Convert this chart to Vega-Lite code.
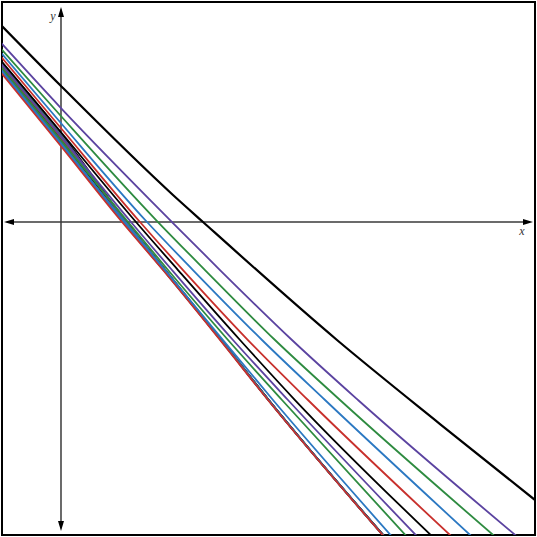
{
  "$schema": "https://vega.github.io/schema/vega-lite/v6.json",
  "width": 533,
  "height": 533,
  "padding": {"left": 2, "top": 2, "right": 2, "bottom": 2},
  "autosize": {"type": "none"},
  "background": "white",
  "config": {"view": {"stroke": "black", "strokeWidth": 2}},
  "datasets": {
    "top": [
      {"id": "T", "x": -1.068, "y": 3.39},
      {"id": "T", "x": -0.017, "y": 2.322},
      {"id": "T", "x": 1.898, "y": 0.458},
      {"id": "T", "x": 2.407, "y": 0},
      {"id": "T", "x": 4.678, "y": -2.0},
      {"id": "T", "x": 6.424, "y": -3.424},
      {"id": "T", "x": 8.119, "y": -4.78}
    ],
    "bundle": [
      {"id": "X0", "col": "black", "x": -1.068, "y": 2.780},
      {"id": "X0", "col": "black", "x": -0.017, "y": 1.525},
      {"id": "X0", "col": "black", "x": 1.110, "y": 0},
      {"id": "X0", "col": "black", "x": 1.771, "y": -0.814},
      {"id": "X0", "col": "black", "x": 2.720, "y": -2.0},
      {"id": "X0", "col": "black", "x": 3.522, "y": -3.017},
      {"id": "X0", "col": "black", "x": 5.536, "y": -5.39},
      {"id": "X1", "col": "purple", "x": -1.068, "y": 2.759},
      {"id": "X1", "col": "purple", "x": -0.017, "y": 1.501},
      {"id": "X1", "col": "purple", "x": 1.103, "y": 0},
      {"id": "X1", "col": "purple", "x": 1.767, "y": -0.814},
      {"id": "X1", "col": "purple", "x": 2.718, "y": -2.0},
      {"id": "X1", "col": "purple", "x": 3.521, "y": -3.017},
      {"id": "X1", "col": "purple", "x": 5.535, "y": -5.39},
      {"id": "X2", "col": "green", "x": -1.068, "y": 2.738},
      {"id": "X2", "col": "green", "x": -0.017, "y": 1.476},
      {"id": "X2", "col": "green", "x": 1.095, "y": 0},
      {"id": "X2", "col": "green", "x": 1.762, "y": -0.814},
      {"id": "X2", "col": "green", "x": 2.716, "y": -2.0},
      {"id": "X2", "col": "green", "x": 3.520, "y": -3.017},
      {"id": "X2", "col": "green", "x": 5.534, "y": -5.39},
      {"id": "X3", "col": "blue", "x": -1.068, "y": 2.717},
      {"id": "X3", "col": "blue", "x": -0.017, "y": 1.452},
      {"id": "X3", "col": "blue", "x": 1.088, "y": 0},
      {"id": "X3", "col": "blue", "x": 1.757, "y": -0.814},
      {"id": "X3", "col": "blue", "x": 2.715, "y": -2.0},
      {"id": "X3", "col": "blue", "x": 3.519, "y": -3.017},
      {"id": "X3", "col": "blue", "x": 5.533, "y": -5.39},
      {"id": "X4", "col": "red", "x": -1.068, "y": 2.697},
      {"id": "X4", "col": "red", "x": -0.017, "y": 1.427},
      {"id": "X4", "col": "red", "x": 1.080, "y": 0},
      {"id": "X4", "col": "red", "x": 1.752, "y": -0.814},
      {"id": "X4", "col": "red", "x": 2.713, "y": -2.0},
      {"id": "X4", "col": "red", "x": 3.518, "y": -3.017},
      {"id": "X4", "col": "red", "x": 5.532, "y": -5.39},
      {"id": "X5", "col": "black", "x": -1.068, "y": 2.676},
      {"id": "X5", "col": "black", "x": -0.017, "y": 1.403},
      {"id": "X5", "col": "black", "x": 1.073, "y": 0},
      {"id": "X5", "col": "black", "x": 1.748, "y": -0.814},
      {"id": "X5", "col": "black", "x": 2.711, "y": -2.0},
      {"id": "X5", "col": "black", "x": 3.517, "y": -3.017},
      {"id": "X5", "col": "black", "x": 5.531, "y": -5.39},
      {"id": "X6", "col": "purple", "x": -1.068, "y": 2.655},
      {"id": "X6", "col": "purple", "x": -0.017, "y": 1.378},
      {"id": "X6", "col": "purple", "x": 1.065, "y": 0},
      {"id": "X6", "col": "purple", "x": 1.743, "y": -0.814},
      {"id": "X6", "col": "purple", "x": 2.709, "y": -2.0},
      {"id": "X6", "col": "purple", "x": 3.516, "y": -3.017},
      {"id": "X6", "col": "purple", "x": 5.530, "y": -5.39},
      {"id": "X7", "col": "green", "x": -1.068, "y": 2.634},
      {"id": "X7", "col": "green", "x": -0.017, "y": 1.354},
      {"id": "X7", "col": "green", "x": 1.057, "y": 0},
      {"id": "X7", "col": "green", "x": 1.738, "y": -0.814},
      {"id": "X7", "col": "green", "x": 2.707, "y": -2.0},
      {"id": "X7", "col": "green", "x": 3.515, "y": -3.017},
      {"id": "X7", "col": "green", "x": 5.529, "y": -5.39},
      {"id": "X8", "col": "blue", "x": -1.068, "y": 2.614},
      {"id": "X8", "col": "blue", "x": -0.017, "y": 1.330},
      {"id": "X8", "col": "blue", "x": 1.050, "y": 0},
      {"id": "X8", "col": "blue", "x": 1.734, "y": -0.814},
      {"id": "X8", "col": "blue", "x": 2.705, "y": -2.0},
      {"id": "X8", "col": "blue", "x": 3.514, "y": -3.017},
      {"id": "X8", "col": "blue", "x": 5.528, "y": -5.39}
    ],
    "family": [
      {"id": "R1", "col": "red", "x": -1.068, "y": 2.593},
      {"id": "R1", "col": "red", "x": -0.017, "y": 1.305},
      {"id": "R1", "col": "red", "x": 1.034, "y": 0},
      {"id": "R1", "col": "red", "x": 1.729, "y": -0.814},
      {"id": "R1", "col": "red", "x": 2.695, "y": -2.0},
      {"id": "R1", "col": "red", "x": 3.508, "y": -3.017},
      {"id": "R1", "col": "red", "x": 5.525, "y": -5.39},
      {"id": "B1", "col": "blue", "x": -1.068, "y": 2.644},
      {"id": "B1", "col": "blue", "x": -0.017, "y": 1.356},
      {"id": "B1", "col": "blue", "x": 1.085, "y": 0},
      {"id": "B1", "col": "blue", "x": 1.763, "y": -0.814},
      {"id": "B1", "col": "blue", "x": 2.746, "y": -2.0},
      {"id": "B1", "col": "blue", "x": 3.593, "y": -3.017},
      {"id": "B1", "col": "blue", "x": 5.661, "y": -5.39},
      {"id": "G1", "col": "green", "x": -1.068, "y": 2.695},
      {"id": "G1", "col": "green", "x": -0.017, "y": 1.407},
      {"id": "G1", "col": "green", "x": 1.136, "y": 0},
      {"id": "G1", "col": "green", "x": 1.814, "y": -0.814},
      {"id": "G1", "col": "green", "x": 2.831, "y": -2.0},
      {"id": "G1", "col": "green", "x": 3.746, "y": -3.017},
      {"id": "G1", "col": "green", "x": 5.915, "y": -5.39},
      {"id": "P1", "col": "purple", "x": -1.068, "y": 2.746},
      {"id": "P1", "col": "purple", "x": -0.017, "y": 1.466},
      {"id": "P1", "col": "purple", "x": 1.186, "y": 0},
      {"id": "P1", "col": "purple", "x": 1.881, "y": -0.814},
      {"id": "P1", "col": "purple", "x": 2.915, "y": -2.0},
      {"id": "P1", "col": "purple", "x": 3.847, "y": -3.017},
      {"id": "P1", "col": "purple", "x": 6.095, "y": -5.39},
      {"id": "K1", "col": "black", "x": -1.068, "y": 2.797},
      {"id": "K1", "col": "black", "x": -0.017, "y": 1.542},
      {"id": "K1", "col": "black", "x": 1.271, "y": 0},
      {"id": "K1", "col": "black", "x": 1.983, "y": -0.814},
      {"id": "K1", "col": "black", "x": 3.034, "y": -2.0},
      {"id": "K1", "col": "black", "x": 3.966, "y": -3.017},
      {"id": "K1", "col": "black", "x": 6.356, "y": -5.39},
      {"id": "R2", "col": "red", "x": -1.068, "y": 2.864},
      {"id": "R2", "col": "red", "x": -0.017, "y": 1.610},
      {"id": "R2", "col": "red", "x": 1.339, "y": 0},
      {"id": "R2", "col": "red", "x": 2.068, "y": -0.814},
      {"id": "R2", "col": "red", "x": 3.169, "y": -2.0},
      {"id": "R2", "col": "red", "x": 4.186, "y": -3.017},
      {"id": "R2", "col": "red", "x": 6.685, "y": -5.39},
      {"id": "B2", "col": "blue", "x": -1.068, "y": 2.931},
      {"id": "B2", "col": "blue", "x": -0.017, "y": 1.695},
      {"id": "B2", "col": "blue", "x": 1.458, "y": 0},
      {"id": "B2", "col": "blue", "x": 2.237, "y": -0.814},
      {"id": "B2", "col": "blue", "x": 3.407, "y": -2.0},
      {"id": "B2", "col": "blue", "x": 4.475, "y": -3.017},
      {"id": "B2", "col": "blue", "x": 7.027, "y": -5.39},
      {"id": "G2", "col": "green", "x": -1.068, "y": 2.993},
      {"id": "G2", "col": "green", "x": -0.017, "y": 1.814},
      {"id": "G2", "col": "green", "x": 1.644, "y": 0},
      {"id": "G2", "col": "green", "x": 2.441, "y": -0.814},
      {"id": "G2", "col": "green", "x": 3.627, "y": -2.0},
      {"id": "G2", "col": "green", "x": 4.729, "y": -3.017},
      {"id": "G2", "col": "green", "x": 7.424, "y": -5.39},
      {"id": "P2", "col": "purple", "x": -1.068, "y": 3.093},
      {"id": "P2", "col": "purple", "x": -0.017, "y": 1.949},
      {"id": "P2", "col": "purple", "x": 1.881, "y": 0},
      {"id": "P2", "col": "purple", "x": 2.695, "y": -0.814},
      {"id": "P2", "col": "purple", "x": 3.915, "y": -2.0},
      {"id": "P2", "col": "purple", "x": 5.034, "y": -3.017},
      {"id": "P2", "col": "purple", "x": 7.8, "y": -5.39}
    ],
    "axes": [
      {"x": -0.92, "x2": 7.95, "y": 0, "y2": 0},
      {"x": 0, "x2": 0, "y": -5.19, "y2": 3.6}
    ],
    "arrows": [
      {"x": 7.915, "y": 0, "dir": "right"},
      {"x": -0.881, "y": 0, "dir": "left"},
      {"x": 0, "y": 3.559, "dir": "up"},
      {"x": 0, "y": -5.153, "dir": "down"}
    ],
    "labels": [
      {"x": 7.814, "y": -0.153, "t": "x"},
      {"x": -0.136, "y": 3.49, "t": "y"}
    ]
  },
  "layer": [
    {
      "data": {"name": "axes"},
      "mark": {"type": "rule", "color": "#3a3a3a", "strokeWidth": 1.5},
      "encoding": {
        "x": {"field": "x", "type": "quantitative", "scale": {"domain": [-1, 8.034], "nice": false, "zero": false}, "axis": null},
        "x2": {"field": "x2"},
        "y": {"field": "y", "type": "quantitative", "scale": {"domain": [-5.305, 3.729], "nice": false, "zero": false}, "axis": null},
        "y2": {"field": "y2"}
      }
    },
    {
      "data": {"name": "arrows"},
      "mark": {"type": "point", "size": 100, "filled": true, "color": "#000000", "opacity": 1},
      "encoding": {
        "x": {"field": "x", "type": "quantitative"},
        "y": {"field": "y", "type": "quantitative"},
        "shape": {"field": "dir", "type": "nominal", "scale": {"domain": ["right", "left", "up", "down"], "range": ["M-1,-0.6L1,0L-1,0.6Z", "M1,-0.6L-1,0L1,0.6Z", "M-0.6,1L0,-1L0.6,1Z", "M-0.6,-1L0,1L0.6,-1Z"]}, "legend": null}
      }
    },
    {
      "data": {"name": "labels"},
      "mark": {"type": "text", "font": "Liberation Serif", "fontStyle": "italic", "fontSize": 12, "color": "#333333"},
      "encoding": {
        "x": {"field": "x", "type": "quantitative"},
        "y": {"field": "y", "type": "quantitative"},
        "text": {"field": "t"}
      }
    },
    {
      "data": {"name": "bundle"},
      "mark": {"type": "line", "strokeWidth": 1.8, "interpolate": "monotone", "clip": true},
      "encoding": {
        "x": {"field": "x", "type": "quantitative"},
        "y": {"field": "y", "type": "quantitative"},
        "detail": {"field": "id"},
        "color": {"field": "col", "type": "nominal", "scale": {"domain": ["red", "blue", "green", "purple", "black"], "range": ["#c8302c", "#2b78c2", "#2e8b40", "#5b43a0", "#000000"]}, "legend": null}
      }
    },
    {
      "data": {"name": "family"},
      "mark": {"type": "line", "strokeWidth": 1.8, "interpolate": "monotone", "clip": true},
      "encoding": {
        "x": {"field": "x", "type": "quantitative"},
        "y": {"field": "y", "type": "quantitative"},
        "detail": {"field": "id"},
        "color": {"field": "col", "type": "nominal", "scale": {"domain": ["red", "blue", "green", "purple", "black"], "range": ["#c8302c", "#2b78c2", "#2e8b40", "#5b43a0", "#000000"]}, "legend": null}
      }
    },
    {
      "data": {"name": "top"},
      "mark": {"type": "line", "strokeWidth": 2.2, "color": "#000000", "interpolate": "monotone", "clip": true},
      "encoding": {
        "x": {"field": "x", "type": "quantitative"},
        "y": {"field": "y", "type": "quantitative"},
        "detail": {"field": "id"}
      }
    }
  ]
}
